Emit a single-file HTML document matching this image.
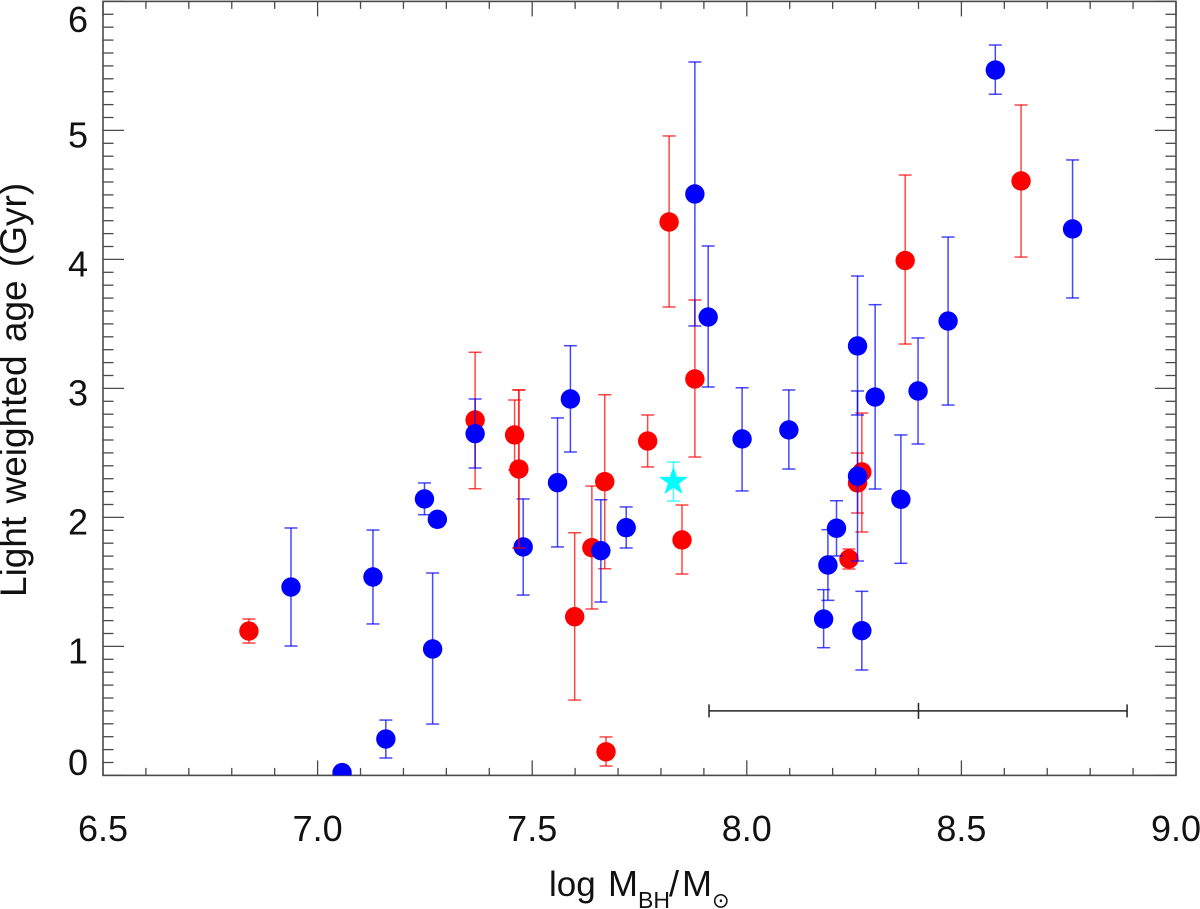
<!DOCTYPE html>
<html>
<head>
<meta charset="utf-8">
<title>Light weighted age vs black hole mass</title>
<style>
html,body{margin:0;padding:0;background:#fff;}
body{width:1200px;height:909px;overflow:hidden;}
svg{display:block;font-family:"Liberation Sans",sans-serif;}
</style>
</head>
<body>
<svg id="chart" width="1200" height="909" viewBox="0 0 1200 909" xmlns="http://www.w3.org/2000/svg">
  <defs><clipPath id="plot-clip"><rect x="103" y="1.4" width="1073" height="774"/></clipPath></defs>
  <rect x="0" y="0" width="1200" height="909" fill="#fff"/>
  <g id="axes"></g>
  <g id="marks" clip-path="url(#plot-clip)"></g>
  <g fill="#111">
    <text x="549" y="896" font-size="35">log</text>
    <text x="608" y="896" font-size="36">M</text>
    <text x="638" y="908" font-size="23">BH</text>
    <text x="669" y="896" font-size="36">/</text>
    <text x="682" y="896" font-size="36">M</text>
    <text x="712" y="907.5" font-size="21" font-family="'DejaVu Sans',sans-serif">⊙</text>
  </g>
  <text transform="translate(26,597) rotate(-90)" x="0" y="0" font-size="37" word-spacing="3" fill="#111">Light weighted age (Gyr)</text>
</svg>
<script>
// ---- chart data ----
const xTickLabels = ["6.5", "7.0", "7.5", "8.0", "8.5", "9.0"];
const yTickLabels = ["0", "1", "2", "3", "4", "5", "6"];

const redMass = [6.84, 7.367, 7.459, 7.469, 7.599, 7.639, 7.669, 7.672, 7.769, 7.819, 7.849, 7.879, 8.238, 8.258, 8.268, 8.369, 8.639];
const redAge  = [1.119, 2.755, 2.639, 2.375, 1.230, 1.765, 2.277, 0.183, 2.592, 4.290, 1.825, 3.073, 1.678, 2.267, 2.352, 3.991, 4.608];
const redHigh = [1.212, 3.280, 2.910, 2.988, 1.881, 2.243, 2.951, 0.298, 2.794, 4.957, 2.096, 3.685, 1.755, 2.499, 2.809, 4.654, 5.197];
const redLow  = [1.026, 2.222, 2.367, 1.763, 0.584, 1.290, 1.602, 0.073, 2.391, 3.631, 1.561, 2.468, 1.600, 2.034, 1.887, 3.344, 4.018];

const blueMass = [6.938, 7.057, 7.129, 7.159, 7.249, 7.268, 7.279, 7.367, 7.479, 7.559, 7.589, 7.660, 7.719, 7.879, 7.910, 7.989, 8.098, 8.179, 8.189, 8.209, 8.258, 8.258, 8.268, 8.299, 8.359, 8.399, 8.469, 8.579, 8.759];
const blueAge  = [1.460, 0.022, 1.538, 0.282, 2.143, 0.980, 1.985, 2.649, 1.771, 2.269, 2.918, 1.742, 1.920, 4.507, 3.553, 2.608, 2.678, 1.212, 1.631, 1.916, 3.329, 2.319, 1.122, 2.933, 2.140, 2.980, 3.522, 5.468, 4.236];
const blueHigh = [1.918, 0.022, 1.902, 0.429, 2.267, 1.569, 1.985, 2.918, 2.143, 2.771, 3.331, 2.137, 2.081, 5.530, 4.104, 3.005, 2.988, 1.440, 1.905, 2.129, 3.871, 2.980, 1.427, 3.649, 2.639, 3.391, 4.173, 5.662, 4.771];
const blueLow  = [1.003, 0.022, 1.174, 0.135, 2.021, 0.398, 1.985, 2.383, 1.398, 1.771, 2.507, 1.344, 1.763, 3.484, 3.011, 2.205, 2.375, 0.990, 1.357, 1.701, 2.794, 1.662, 0.817, 2.220, 1.644, 2.569, 2.871, 5.280, 3.701];

const starMass = [7.829];
const starAge  = [2.277];
const starHigh = [2.429];
const starLow  = [2.127];

const scaleBarMass = [8.40];
const scaleBarAge  = [0.50];
const scaleBarLow  = [7.912];
const scaleBarHigh = [8.886];

// ---- axis functions ----
const NS = "http://www.w3.org/2000/svg";
function xAt(v){ return 103 + (v - 6.5) * 429.2; }
function yAt(v){ return 775.4 - v * 129; }

function make(tag, parent, attrs){
  const el = document.createElementNS(NS, tag);
  for (const k in attrs) el.setAttribute(k, attrs[k]);
  parent.appendChild(el);
  return el;
}

const axes = document.getElementById("axes");
const marks = document.getElementById("marks");
const AXIS = "#4a4a4a";

const frame = make("rect", axes, {x: xAt(6.5), y: yAt(6), width: xAt(9) - xAt(6.5), height: yAt(0) - yAt(6), fill: "none", stroke: AXIS, "stroke-width": 1.6});



// x ticks
for (let i = 0; i <= 25; i++){
  const v = 6.5 + i * 0.1;
  const major = i % 5 === 0;
  const len = major ? 15 : 7.5;
  const bottom = make("line", axes, {x1: xAt(v), x2: xAt(v), y1: yAt(0), y2: yAt(0) - len, stroke: AXIS, "stroke-width": 1.3});
  
  
  const top = make("line", axes, {x1: xAt(v), x2: xAt(v), y1: yAt(6), y2: yAt(6) + len, stroke: AXIS, "stroke-width": 1.3});
  
  
}
// y ticks
for (let i = 0; i <= 60; i++){
  const v = i * 0.1;
  const major = i % 10 === 0;
  const len = major ? 21 : 10.5;
  const left = make("line", axes, {x1: xAt(6.5), x2: xAt(6.5) + len, y1: yAt(v), y2: yAt(v), stroke: AXIS, "stroke-width": 1.3});
  
  
  const right = make("line", axes, {x1: xAt(9), x2: xAt(9) - len, y1: yAt(v), y2: yAt(v), stroke: AXIS, "stroke-width": 1.3});
  
  
}
// tick labels
xTickLabels.forEach(function(label){
  const t = make("text", axes, {x: xAt(parseFloat(label)), y: 841, "font-size": 36, fill: "#111", "text-anchor": "middle"});
  
  
  t.textContent = label;
});
yTickLabels.forEach(function(label){
  const base = Math.min(775, Math.max(32, yAt(parseFloat(label)) + 17));
  const t = make("text", axes, {x: 88, y: base, "font-size": 36, fill: "#111", "text-anchor": "end"});
  
  
  t.textContent = label;
});

// ---- marks ----
function errorBar(xv, lo, hi, color, label){
  const g = make("g", marks, {stroke: color, "stroke-width": 1.5, "stroke-opacity": 0.72});
  
  
  if (hi === lo) return g;
  const x = xAt(xv);
  make("line", g, {x1: x, x2: x, y1: yAt(hi), y2: yAt(lo)});
  make("line", g, {x1: x - 6.5, x2: x + 6.5, y1: yAt(hi), y2: yAt(hi)});
  make("line", g, {x1: x - 6.5, x2: x + 6.5, y1: yAt(lo), y2: yAt(lo)});
  return g;
}
function dot(xv, yv, color, label){
  const c = make("circle", marks, {cx: xAt(xv), cy: yAt(yv), r: 9.7, fill: color});
  
  
}

redMass.forEach(function(m, i){
  errorBar(m, redLow[i], redHigh[i], "#ff0000", "red-error-bar");
  dot(m, redAge[i], "#ff0000", "red-point");
});
blueMass.forEach(function(m, i){
  errorBar(m, blueLow[i], blueHigh[i], "#0000ff", "blue-error-bar");
  dot(m, blueAge[i], "#0000ff", "blue-point");
});
// one red error bar is painted over the blue marker beside it
errorBar(redMass[3], redLow[3], redHigh[3], "#ff0000", "red-error-bar-overlay");

// star
starMass.forEach(function(m, i){
  errorBar(m, starLow[i], starHigh[i], "#00ffff", "star-error-bar");
  const cx = xAt(m), cy = yAt(starAge[i]);
  const pts = [];
  for (let k = 0; k < 10; k++){
    const r = k % 2 ? 5.9 : 15.4;
    const a = -Math.PI / 2 + k * Math.PI / 5;
    pts.push((cx + r * Math.cos(a)).toFixed(1) + "," + (cy + r * Math.sin(a)).toFixed(1));
  }
  const s = make("polygon", marks, {points: pts.join(" "), fill: "#00ffff"});
  
  
});

// representative horizontal error bar
scaleBarMass.forEach(function(m, i){
  const y = yAt(scaleBarAge[i]);
  const g = make("g", marks, {stroke: "#222", "stroke-width": 1.5});
  
  
  make("line", g, {x1: xAt(scaleBarLow[i]), x2: xAt(scaleBarHigh[i]), y1: y, y2: y});
  make("line", g, {x1: xAt(scaleBarLow[i]), x2: xAt(scaleBarLow[i]), y1: y - 6.5, y2: y + 6.5});
  make("line", g, {x1: xAt(scaleBarHigh[i]), x2: xAt(scaleBarHigh[i]), y1: y - 6.5, y2: y + 6.5});
  make("line", g, {x1: xAt(m), x2: xAt(m), y1: y - 8, y2: y + 8});
});
</script>
</body>
</html>
